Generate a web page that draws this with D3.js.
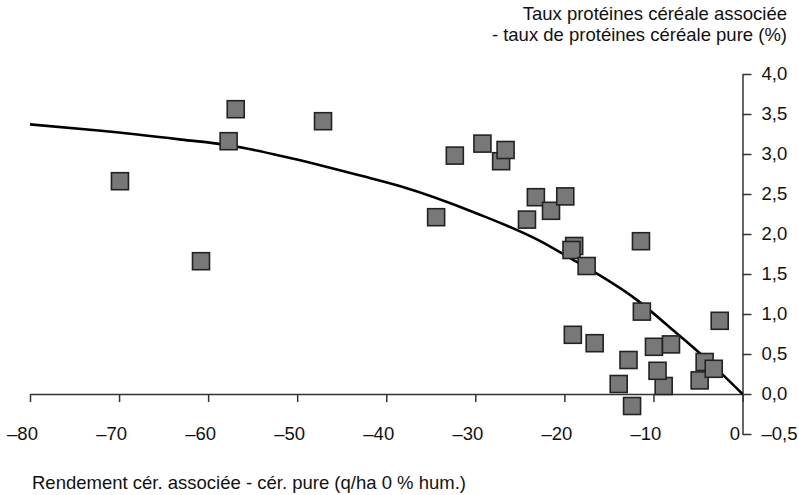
<!DOCTYPE html>
<html>
<head>
<meta charset="utf-8">
<script src="https://cdn.jsdelivr.net/npm/d3@7"></script>
<style>
  html, body { margin: 0; padding: 0; background: #fff; }
  svg { display: block; font-family: "Liberation Sans", Arial, Helvetica, sans-serif; }
</style>
</head>
<body>
<svg id="chart" width="799" height="495"></svg>
<script>
// ---- data ----
const xTicks = [-80, -70, -60, -50, -40, -30, -20, -10, 0];
const yTicks = [-0.5, 0, 0.5, 1, 1.5, 2, 2.5, 3, 3.5, 4];

const pointX = [-69.9, -60.8, -57.7, -56.9, -47.1, -34.4, -32.3, -29.2, -27.1, -26.6,
                -24.2, -23.2, -21.5, -19.9, -18.9, -19.2, -17.5, -11.4, -11.3, -19.05,
                -16.6, -9.94, -8.03, -12.8, -13.9, -12.4, -8.85, -9.54, -4.81, -4.25,
                -3.23, -2.56];
const pointY = [2.66, 1.66, 3.16, 3.56, 3.41, 2.21, 2.98, 3.13, 2.91, 3.05,
                2.18, 2.46, 2.29, 2.47, 1.85, 1.80, 1.60, 1.91, 1.03, 0.74,
                0.635, 0.59, 0.62, 0.425, 0.125, -0.15, 0.10, 0.29, 0.17, 0.40,
                0.315, 0.915];

const curveX = [-80, -72, -63, -57.7, -50.8, -42.9, -38.5, -29.9, -22.7, -20, -11.8, -7.4, -4.4, 0];
const curveY = [3.37, 3.29, 3.18, 3.11, 2.95, 2.73, 2.60, 2.26, 1.91, 1.74, 1.17, 0.76, 0.47, 0.0];

const titleY = ["Taux protéines céréale associée", "- taux de protéines céréale pure (%)"];
const titleX = "Rendement cér. associée - cér. pure (q/ha 0 % hum.)";

// ---- chart ----
const svg = d3.select("#chart");
const FONT = 18.5;
const axisColor = "#333";

const x = d3.scaleLinear().domain([-80, 0]).range([30, 742.5]);
const y = d3.scaleLinear().domain([-0.5, 4]).range([434, 74]);

const fmt = v => {
  const s = Math.abs(v) < 1e-9 ? "0" : String(Math.abs(v));
  return (v < -1e-9 ? "\u2013" : "") + s;
};
const fmtY = v => (v < -1e-9 ? "\u2013" : "") + Math.abs(v).toFixed(1).replace(".", ",");

// x axis
const gx = svg.append("g").attr("transform", `translate(0,${y(0)})`)
  .call(d3.axisBottom(x).tickValues(xTicks).tickSize(8).tickSizeOuter(0).tickFormat(fmt));
gx.select(".domain").attr("stroke", axisColor).attr("stroke-width", 1.5);
gx.selectAll(".tick line").attr("stroke", axisColor).attr("stroke-width", 1.5);
gx.selectAll(".tick text")
  .attr("x", -8).attr("y", 45.5).attr("dy", null)
  .attr("font-size", FONT).attr("font-family", "Liberation Sans, Arial, sans-serif")
  .attr("fill", "#111");

// y axis
const gy = svg.append("g").attr("transform", `translate(${x(0)},0)`)
  .call(d3.axisRight(y).tickValues(yTicks).tickSize(9).tickSizeOuter(0).tickPadding(10).tickFormat(fmtY));
gy.select(".domain").attr("stroke", axisColor).attr("stroke-width", 1.5);
gy.selectAll(".tick line").attr("stroke", axisColor).attr("stroke-width", 1.5);
gy.selectAll(".tick text")
  .attr("font-size", FONT).attr("font-family", "Liberation Sans, Arial, sans-serif")
  .attr("fill", "#111");

// fitted curve
const line = d3.line().x(d => x(d[0])).y(d => y(d[1])).curve(d3.curveMonotoneX);
svg.append("path")
  .datum(d3.zip(curveX, curveY))
  .attr("d", line)
  .attr("fill", "none").attr("stroke", "#000").attr("stroke-width", 2.6);

// points
const S = 17;
svg.append("g").selectAll("rect")
  .data(d3.zip(pointX, pointY))
  .join("rect")
  .attr("x", d => x(d[0]) - S / 2)
  .attr("y", d => y(d[1]) - S / 2)
  .attr("width", S).attr("height", S)
  .attr("fill", "#787878").attr("stroke", "#222").attr("stroke-width", 1.6);

// titles
svg.append("text").attr("x", 787).attr("text-anchor", "end")
  .attr("font-size", FONT).attr("fill", "#111")
  .selectAll("tspan").data(titleY).join("tspan")
  .attr("x", 787).attr("y", (d, i) => 20 + i * 21).text(d => d);

svg.append("text").attr("x", 32).attr("y", 489)
  .attr("font-size", FONT).attr("fill", "#111").text(titleX);
</script>
</body>
</html>
